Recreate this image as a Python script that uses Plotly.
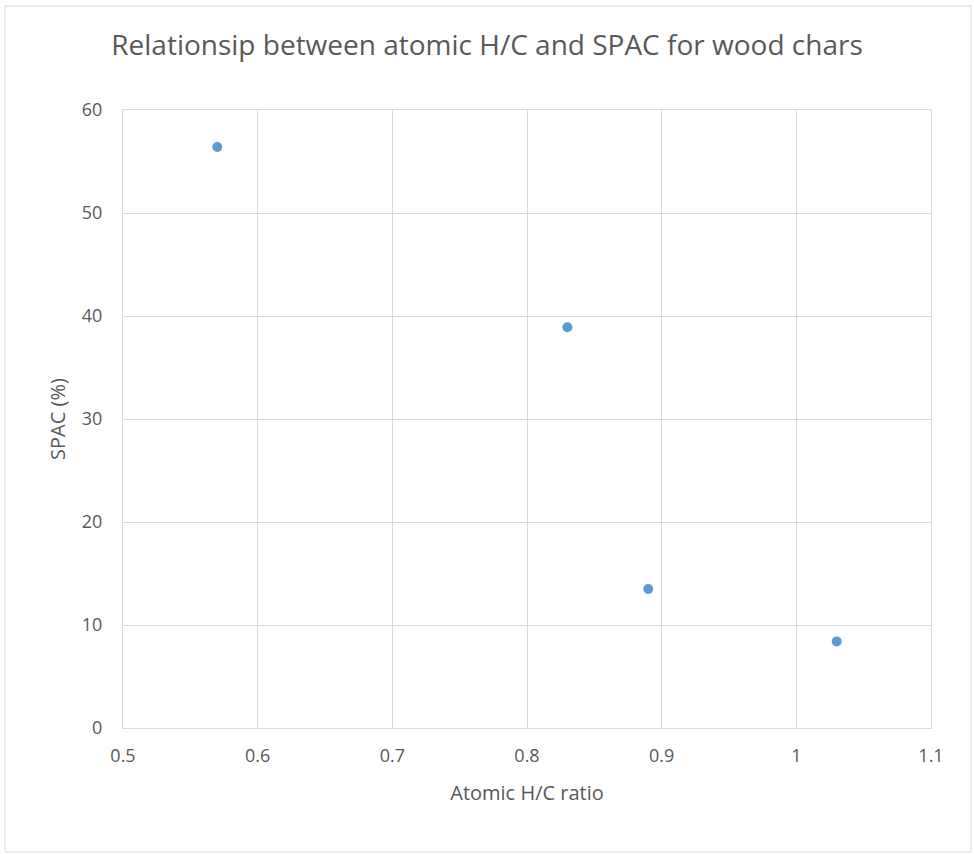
import plotly.graph_objects as go

hc_ratio = [0.57, 0.83, 0.89, 1.03]
spac = [56.4, 38.9, 13.5, 8.4]

x_ticks = [0.5, 0.6, 0.7, 0.8, 0.9, 1.0, 1.1]
x_tick_labels = ["0.5", "0.6", "0.7", "0.8", "0.9", "1", "1.1"]
y_ticks = [0, 10, 20, 30, 40, 50, 60]

W, H = 974, 854
L, R, T, B = 123, 43, 110, 126
pw, ph = W - L - R, H - T - B

fig = go.Figure()
fig.add_trace(go.Scatter(
    x=hc_ratio, y=spac, mode="markers",
    marker=dict(size=10, color="#5B9BD5"),
    showlegend=False,
))

font_family = "'Open Sans', 'Noto Sans', sans-serif"
fig.update_layout(
    width=W, height=H,
    margin=dict(l=L, r=R, t=T, b=B),
    paper_bgcolor="white", plot_bgcolor="white",
    font=dict(family=font_family, color="#595959", size=18),
    title=dict(text="Relationsip between atomic H/C and SPAC for wood chars",
               x=0.5, xanchor="center", y=1 - 45 / H, yanchor="middle",
               font=dict(size=28, color="#595959", family=font_family)),
    xaxis=dict(range=[0.5, 1.1], tickvals=x_ticks, ticktext=x_tick_labels,
               showgrid=True, gridcolor="#d9d9d9", gridwidth=1,
               showline=True, linecolor="#d9d9d9", mirror=True, zeroline=False,
               ticks="", ticklabelstandoff=11,
               tickfont=dict(size=18, color="#595959"),
               title=dict(text="Atomic H/C ratio", standoff=20,
                          font=dict(size=20, color="#595959"))),
    yaxis=dict(range=[0, 60], tickvals=y_ticks,
               showgrid=True, gridcolor="#d9d9d9", gridwidth=1,
               showline=True, linecolor="#d9d9d9", mirror=True, zeroline=False,
               ticks="", ticklabelstandoff=16,
               tickfont=dict(size=18, color="#595959"),
               title=dict(text="SPAC (%)", standoff=10,
                          font=dict(size=20, color="#595959"))),
)

# outer chart border
fig.add_shape(type="rect", xref="paper", yref="paper",
              x0=(5 - L) / pw, x1=(971 - L) / pw,
              y0=1 - (852 - T) / ph, y1=1 - (6 - T) / ph,
              line=dict(color="#d9d9d9", width=1), fillcolor="rgba(0,0,0,0)",
              layer="below")

fig.write_html("out.html", config={"displayModeBar": False})

with open("out.html", "r", encoding="utf-8") as f:
    html = f.read()
html = html.replace("<head>", "<head><style>html,body{margin:0;padding:0;overflow:hidden}</style>", 1)
with open("out.html", "w", encoding="utf-8") as f:
    f.write(html)
